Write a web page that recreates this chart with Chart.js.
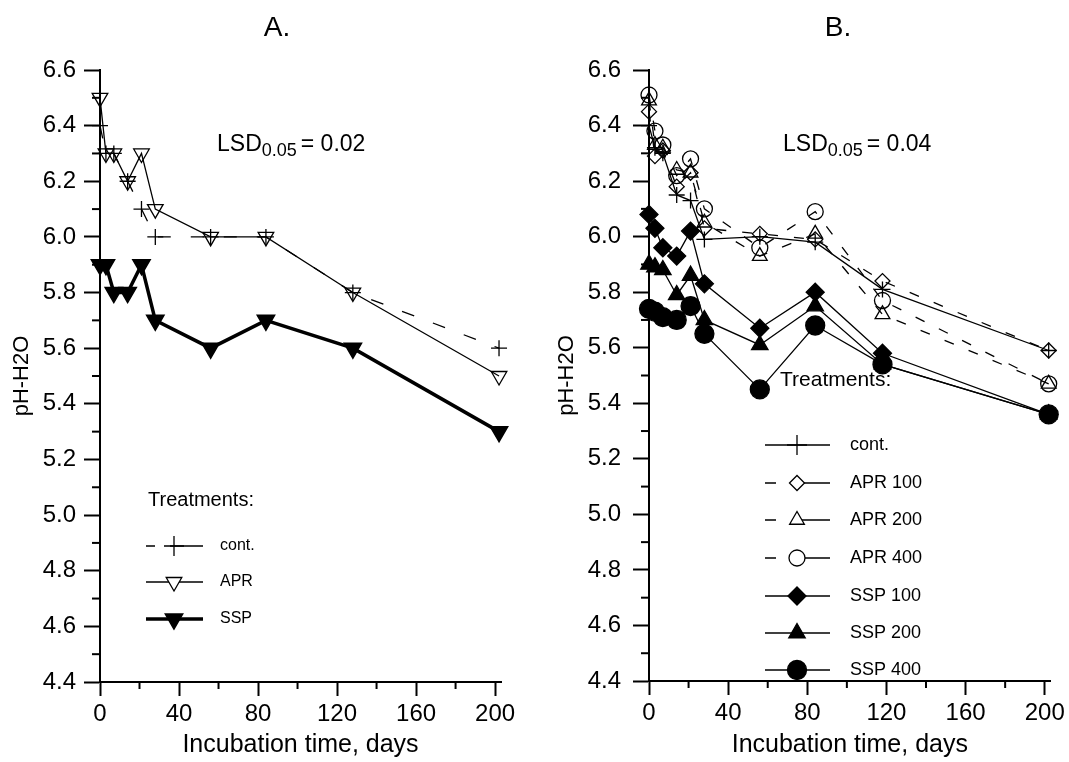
<!DOCTYPE html>
<html>
<head>
<meta charset="utf-8">
<script src="https://cdn.jsdelivr.net/npm/chart.js@4.4.1/dist/chart.umd.min.js"></script>
<style>
  body { margin: 0; background: #fff; width: 1069px; height: 762px; overflow: hidden; position: relative; }
  canvas { position: absolute; top: 0; }
  #chartA { left: 0; }
  #chartB { left: 535px; }
</style>
</head>
<body>
<canvas id="chartA" width="535" height="762"></canvas>
<canvas id="chartB" width="534" height="762"></canvas>
<script>
// Panel A data (days, pH)
const daysA = [0, 3, 7, 14, 21, 28, 56, 84, 128, 202];
const contA = [6.4, 6.3, 6.3, 6.2, 6.1, 6.0, 6.0, 6.0, 5.8, 5.6];
const aprA  = [6.5, 6.3, 6.3, 6.2, 6.3, 6.1, 6.0, 6.0, 5.8, 5.5];
const sspA  = [5.9, 5.9, 5.8, 5.8, 5.9, 5.7, 5.6, 5.7, 5.6, 5.3];

// Panel B data
const daysB   = [0, 3, 7, 14, 21, 28, 56, 84, 118, 202];
const contB   = [6.40, 6.32, 6.30, 6.15, 6.13, 5.99, 6.00, 5.98, 5.81, 5.59];
const apr100B = [6.45, 6.29, 6.31, 6.18, 6.23, 6.03, 6.01, 5.99, 5.84, 5.59];
const apr200B = [6.49, 6.33, 6.32, 6.24, 6.23, 6.05, 5.93, 6.01, 5.72, 5.47];
const apr400B = [6.51, 6.38, 6.33, 6.22, 6.28, 6.10, 5.96, 6.09, 5.77, 5.47];
const ssp100B = [6.08, 6.03, 5.96, 5.93, 6.02, 5.83, 5.67, 5.80, 5.58, 5.36];
const ssp200B = [5.90, 5.89, 5.88, 5.79, 5.86, 5.70, 5.61, 5.75, 5.54, 5.36];
const ssp400B = [5.74, 5.73, 5.71, 5.70, 5.75, 5.65, 5.45, 5.68, 5.54, 5.36];

const labelsA = ['cont.', 'APR', 'SSP'];
const labelsB = ['cont.', 'APR 100', 'APR 200', 'APR 400', 'SSP 100', 'SSP 200', 'SSP 400'];

const FONT = "'Liberation Sans', Arial, sans-serif";
const OPEN = 'rgba(0,0,0,0)';
const isMajorY = v => Math.round(v * 10) % 2 === 0;
const isMajorX = v => Math.round(v) % 40 === 0;

function series(label, days, vals, st) {
    return Object.assign({
        label,
        data: days.map((d, i) => ({ x: d, y: vals[i] })),
        borderColor: '#000',
        pointBorderColor: '#000',
        pointBackgroundColor: '#000',
        backgroundColor: '#000',
        borderWidth: 1.5,
        pointBorderWidth: 1.4,
        tension: 0,
        clip: false
    }, st);
}

function drawLSD(ctx, x, y, value) {
    ctx.textAlign = 'left';
    ctx.textBaseline = 'alphabetic';
    ctx.font = `23px ${FONT}`;
    ctx.fillText('LSD', x, y);
    let w = ctx.measureText('LSD').width;
    ctx.font = `18px ${FONT}`;
    ctx.fillText('0.05', x + w, y + 5);
    w += ctx.measureText('0.05').width + 4;
    ctx.font = `23px ${FONT}`;
    ctx.fillText('= ' + value, x + w, y);
}

// minor ticks, panel title, LSD note and the legend
const panelPlugin = {
    id: 'panel',
    afterDraw(chart, args, o) {
        const ctx = chart.ctx;
        const area = chart.chartArea;
        ctx.save();
        ctx.strokeStyle = '#000';
        ctx.fillStyle = '#000';
        ctx.lineWidth = 2;
        ['x', 'y'].forEach(id => {
            const s = chart.scales[id];
            s.ticks.forEach(t => {
                const major = id === 'x' ? isMajorX(t.value) : isMajorY(t.value);
                if (major) return;
                const p = s.getPixelForValue(t.value);
                ctx.beginPath();
                if (id === 'x') { ctx.moveTo(p, area.bottom); ctx.lineTo(p, area.bottom + 7); }
                else { ctx.moveTo(area.left, p); ctx.lineTo(area.left - 8, p); }
                ctx.stroke();
            });
        });

        ctx.font = `28px ${FONT}`;
        ctx.textAlign = 'center';
        ctx.textBaseline = 'middle';
        ctx.fillText(o.title, o.titleX, 28);

        drawLSD(ctx, o.lsdX, 151, o.lsd);

        const lg = o.legend;
        ctx.font = `${lg.titleSize}px ${FONT}`;
        ctx.textAlign = 'left';
        ctx.textBaseline = 'middle';
        ctx.fillText('Treatments:', lg.titleX, lg.titleY);

        chart.data.datasets.forEach((ds, i) => {
            const y = lg.rows[i];
            ctx.lineWidth = ds.borderWidth;
            ctx.setLineDash(lg.dash[i]);
            ctx.beginPath();
            ctx.moveTo(lg.lineLeft, y);
            ctx.lineTo(lg.lineRight, y);
            ctx.stroke();
            ctx.setLineDash([]);
            ctx.fillStyle = ds.pointBackgroundColor === OPEN ? '#fff' : '#000';
            ctx.lineWidth = ds.pointBorderWidth;
            Chart.helpers.drawPoint(ctx, {
                pointStyle: ds.pointStyle,
                rotation: ds.pointRotation || 0,
                radius: ds.pointRadius + (ds.pointStyle === 'cross' ? 2 : 0),
                borderWidth: ds.pointBorderWidth
            }, lg.markerX, y);
            ctx.fillStyle = '#000';
            ctx.font = `${lg.labelSize}px ${FONT}`;
            ctx.fillText(ds.label, lg.labelX, y);
        });
        ctx.restore();
    }
};

function makeOptions(yWidth, xHeight, rightPad, yTitlePad, yLabelPad, panel) {
    return {
        responsive: false,
        animation: false,
        events: [],
        layout: { padding: { top: 70, right: rightPad, left: 0, bottom: 0 } },
        plugins: {
            legend: { display: false },
            tooltip: { enabled: false },
            panel: panel
        },
        scales: {
            x: {
                type: 'linear',
                min: 0, max: 203,
                border: { display: true, color: '#000', width: 2 },
                grid: {
                    drawOnChartArea: false, tickLength: 14, tickWidth: 2,
                    tickColor: c => (c.tick && isMajorX(c.tick.value)) ? '#000' : OPEN
                },
                ticks: {
                    stepSize: 20, includeBounds: false, autoSkip: false, maxRotation: 0,
                    padding: 4, color: '#000', font: { family: FONT, size: 24 },
                    callback: v => isMajorX(v) ? String(v) : ''
                },
                title: {
                    display: true, text: 'Incubation time, days', color: '#000',
                    font: { family: FONT, size: 25 }, padding: { top: 0, bottom: 2 }
                },
                afterFit: s => { s.height = xHeight; }
            },
            y: {
                min: 4.4, max: 6.6,
                border: { display: true, color: '#000', width: 2 },
                grid: {
                    drawOnChartArea: false, tickLength: 16, tickWidth: 2,
                    tickColor: c => (c.tick && isMajorY(c.tick.value)) ? '#000' : OPEN
                },
                ticks: {
                    stepSize: 0.1, autoSkip: false, padding: yLabelPad, color: '#000',
                    font: { family: FONT, size: 24 },
                    callback: v => isMajorY(v) ? v.toFixed(1) : ''
                },
                title: {
                    display: true, text: 'pH-H2O', color: '#000',
                    font: { family: FONT, size: 22 }, padding: { top: yTitlePad, bottom: 0 }
                },
                afterFit: s => { s.width = yWidth; }
            }
        }
    };
}

const thin = { borderWidth: 1.3, pointBorderWidth: 1.3 };
const dashB = [10, 16];

new Chart(document.getElementById('chartA'), {
    type: 'line',
    data: {
        datasets: [
            series(labelsA[0], daysA, contA, { ...thin, borderDash: [13, 20], pointStyle: 'cross', pointRadius: 8 }),
            series(labelsA[1], daysA, aprA, { ...thin, pointStyle: 'triangle', pointRotation: 180, pointRadius: 9, pointBackgroundColor: OPEN }),
            series(labelsA[2], daysA, sspA, { borderWidth: 3.5, pointBorderWidth: 1.5, pointStyle: 'triangle', pointRotation: 180, pointRadius: 10 })
        ]
    },
    options: makeOptions(100, 80, 34, 9, 8, {
        title: 'A.', titleX: 277, lsdX: 217, lsd: '0.02',
        legend: {
            titleX: 148, titleY: 500, titleSize: 20, labelSize: 16,
            rows: [546, 582, 619], lineLeft: 146, lineRight: 203, markerX: 174, labelX: 220,
            dash: [[9, 15, 100], [], []]
        }
    }),
    plugins: [panelPlugin]
});

new Chart(document.getElementById('chartB'), {
    type: 'line',
    data: {
        datasets: [
            series(labelsB[0], daysB, contB, { ...thin, pointStyle: 'cross', pointRadius: 8 }),
            series(labelsB[1], daysB, apr100B, { ...thin, borderDash: dashB, pointStyle: 'rectRot', pointRadius: 7.5, pointBackgroundColor: OPEN }),
            series(labelsB[2], daysB, apr200B, { ...thin, borderDash: dashB, pointStyle: 'triangle', pointRadius: 8.5, pointBackgroundColor: OPEN }),
            series(labelsB[3], daysB, apr400B, { ...thin, borderDash: dashB, pointStyle: 'circle', pointRadius: 8, pointBackgroundColor: OPEN }),
            series(labelsB[4], daysB, ssp100B, { ...thin, pointStyle: 'rectRot', pointRadius: 9 }),
            series(labelsB[5], daysB, ssp200B, { ...thin, pointStyle: 'triangle', pointRadius: 9.5 }),
            series(labelsB[6], daysB, ssp400B, { ...thin, pointStyle: 'circle', pointRadius: 9.5 })
        ]
    },
    options: makeOptions(114, 81, 17, 19, 12, {
        title: 'B.', titleX: 838 - 535, lsdX: 783 - 535, lsd: '0.04',
        legend: {
            titleX: 780 - 535, titleY: 380, titleSize: 21, labelSize: 18,
            rows: [445, 483, 520, 558, 596, 633, 670],
            lineLeft: 765 - 535, lineRight: 830 - 535, markerX: 797 - 535, labelX: 850 - 535,
            dash: [[], [11, 17, 100], [11, 17, 100], [11, 17, 100], [], [], []]
        }
    }),
    plugins: [panelPlugin]
});
</script>
</body>
</html>
